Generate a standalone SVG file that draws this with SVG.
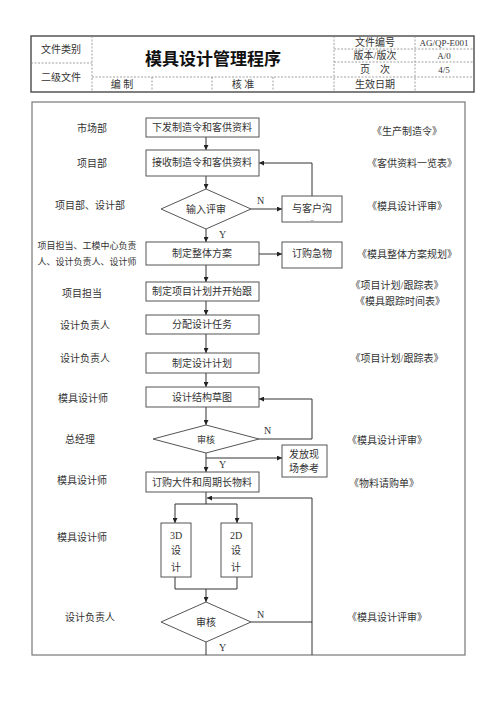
<svg xmlns="http://www.w3.org/2000/svg" width="500" height="708" viewBox="0 0 500 708">
<defs>
<marker id="ah" viewBox="0 0 10 10" refX="10" refY="5" markerWidth="5" markerHeight="5" orient="auto" markerUnits="userSpaceOnUse"><path d="M0,0 L10,5 L0,10 z" fill="#222"/></marker>
<style>
text{font-family:"Liberation Serif","Noto Sans CJK SC",serif;fill:#333;font-size:10px}
.c{text-anchor:middle}
.s{font-size:9px}
.t{font-size:17px;font-weight:bold;fill:#111}
.hd{fill:none;stroke:#888;stroke-width:0.8;stroke-dasharray:2,1.5}
.box{fill:#fff;stroke:#555;stroke-width:1}
.ln{fill:none;stroke:#333;stroke-width:1}
.ar{fill:none;stroke:#333;stroke-width:1;marker-end:url(#ah)}
</style>
</defs>
<rect width="500" height="708" fill="#fff"/>
<g id="header">
<rect x="31" y="36" width="443" height="56" fill="none" stroke="#555" stroke-width="1.5"/>
<line class="hd" x1="92" y1="36" x2="92" y2="92"/>
<line class="hd" x1="31" y1="63" x2="92" y2="63"/>
<line class="hd" x1="334" y1="36" x2="334" y2="92"/>
<line class="hd" x1="415" y1="36" x2="415" y2="92"/>
<line class="hd" x1="334" y1="49" x2="474" y2="49"/>
<line class="hd" x1="334" y1="62" x2="474" y2="62"/>
<line class="hd" x1="92" y1="77" x2="474" y2="77"/>
<line class="hd" x1="152" y1="77" x2="152" y2="92"/>
<line class="hd" x1="212" y1="77" x2="212" y2="92"/>
<line class="hd" x1="273" y1="77" x2="273" y2="92"/>
<text class="c" x="61" y="53">文件类别</text>
<text class="c" x="61" y="81">二级文件</text>
<text class="c t" x="213" y="65">模具设计管理程序</text>
<text class="c" x="122" y="88">编 制</text>
<text class="c" x="243" y="88">核 准</text>
<text class="c" x="375" y="46">文件编号</text>
<text class="c" x="375" y="59">版本/版次</text>
<text class="c" x="375" y="73">页　次</text>
<text class="c" x="375" y="88">生效日期</text>
<text class="c s" x="444" y="46">AG/QP-E001</text>
<text class="c s" x="444" y="59">A/0</text>
<text class="c s" x="444" y="73">4/5</text>
</g>
<rect id="frame" x="32" y="102" width="433" height="553" fill="none" stroke="#777" stroke-width="1.2"/>
<g id="roles">
<text class="c" x="92" y="132">市场部</text>
<text class="c" x="92" y="167">项目部</text>
<text class="c" x="90" y="209">项目部、设计部</text>
<text class="c s" x="87" y="249">项目担当、工模中心负责</text>
<text class="c s" x="87" y="265">人、设计负责人、设计师</text>
<text class="c" x="82" y="297">项目担当</text>
<text class="c" x="85" y="329">设计负责人</text>
<text class="c" x="85" y="362">设计负责人</text>
<text class="c" x="83" y="402">模具设计师</text>
<text class="c" x="80" y="443">总经理</text>
<text class="c" x="82" y="484">模具设计师</text>
<text class="c" x="82" y="541">模具设计师</text>
<text class="c" x="90" y="621">设计负责人</text>
</g>
<g id="docs">
<text class="c" x="407" y="135">《生产制造令》</text>
<text class="c" x="412" y="167">《客供资料一览表》</text>
<text class="c" x="407" y="210">《模具设计评审》</text>
<text class="c" x="407" y="258">《模具整体方案规划》</text>
<text class="c" x="397" y="289">《项目计划/跟踪表》</text>
<text class="c" x="400" y="305">《模具跟踪时间表》</text>
<text class="c" x="397" y="362">《项目计划/跟踪表》</text>
<text class="c" x="387" y="444">《模具设计评审》</text>
<text class="c" x="384" y="487">《物料请购单》</text>
<text class="c" x="387" y="621">《模具设计评审》</text>
</g>
<g id="connectors">
<line class="ar" x1="206" y1="137" x2="206" y2="150"/>
<line class="ar" x1="206" y1="176" x2="206" y2="189"/>
<line class="ar" x1="251" y1="209" x2="282" y2="209"/>
<polyline class="ar" points="312,196 312,163 259,163"/>
<line class="ar" x1="206" y1="229" x2="206" y2="242"/>
<line class="ar" x1="259" y1="254" x2="282" y2="254"/>
<line class="ar" x1="206" y1="265" x2="206" y2="282"/>
<line class="ar" x1="206" y1="301" x2="206" y2="315"/>
<line class="ar" x1="206" y1="334" x2="206" y2="353"/>
<line class="ar" x1="206" y1="373" x2="206" y2="387"/>
<line class="ar" x1="206" y1="407" x2="206" y2="425"/>
<polyline class="ar" points="259,439 312,439 312,399 259,399"/>
<line class="ar" x1="206" y1="453" x2="206" y2="472"/>
<line class="ar" x1="206" y1="458" x2="282" y2="458"/>
<line class="ln" x1="206" y1="492" x2="206" y2="504"/>
<line class="ln" x1="175" y1="504" x2="237" y2="504"/>
<line class="ar" x1="175" y1="504" x2="175" y2="523"/>
<line class="ar" x1="237" y1="504" x2="237" y2="523"/>
<line class="ln" x1="312" y1="655" x2="312" y2="498"/>
<line class="ar" x1="312" y1="498" x2="207" y2="498"/>
<polyline class="ln" points="175,577 175,589 237,589 237,577"/>
<line class="ar" x1="206" y1="589" x2="206" y2="602"/>
<line class="ln" x1="251" y1="622" x2="312" y2="622"/>
<line class="ln" x1="206" y1="642" x2="206" y2="655"/>
<text x="257" y="204">N</text>
<text x="219" y="238">Y</text>
<text x="264" y="434">N</text>
<text x="219" y="468">Y</text>
<text x="257" y="618">N</text>
<text x="219" y="651">Y</text>
</g>
<g id="n1"><rect class="box" x="146" y="118" width="113" height="19"/><text class="c" x="202" y="131">下发制造令和客供资料</text></g>
<g id="n2"><rect class="box" x="146" y="150" width="113" height="26"/><text class="c" x="202" y="166">接收制造令和客供资料</text></g>
<g id="n3"><polygon class="box" points="206,189 251,209 206,229 161,209"/><text class="c" x="206" y="213">输入评审</text></g>
<g id="n4"><rect class="box" x="282" y="196" width="60" height="26"/><text class="c" x="312" y="212">与客户沟</text><text class="c" x="312" y="220" style="font-size:6px">_</text></g>
<g id="n5"><rect class="box" x="146" y="242" width="113" height="23"/><text class="c" x="202" y="257">制定整体方案</text></g>
<g id="n6"><rect class="box" x="282" y="242" width="60" height="26"/><text class="c" x="312" y="257">订购急物</text></g>
<g id="n7"><rect class="box" x="146" y="282" width="113" height="19"/><text class="c" x="202" y="295">制定项目计划并开始跟</text></g>
<g id="n8"><rect class="box" x="146" y="315" width="113" height="19"/><text class="c" x="202" y="328">分配设计任务</text></g>
<g id="n9"><rect class="box" x="146" y="353" width="113" height="20"/><text class="c" x="202" y="367">制定设计计划</text></g>
<g id="n10"><rect class="box" x="146" y="387" width="113" height="20"/><text class="c" x="202" y="401">设计结构草图</text></g>
<g id="n11"><polygon class="box" points="206,425 259,439 206,453 153,439"/><text class="c" x="206" y="443" style="font-size:9px">审核</text></g>
<g id="n12"><rect class="box" x="282" y="445" width="45" height="32"/><text class="c" x="304" y="458">发放现</text><text class="c" x="304" y="472">场参考</text></g>
<g id="n13"><rect class="box" x="146" y="472" width="113" height="20"/><text class="c" x="202" y="486">订购大件和周期长物料</text></g>
<g id="n14"><rect class="box" x="161" y="523" width="30" height="54"/><text class="c" x="176" y="539">3D</text><text class="c" x="176" y="554">设</text><text class="c" x="176" y="571">计</text></g>
<g id="n15"><rect class="box" x="221" y="523" width="31" height="54"/><text class="c" x="236" y="539">2D</text><text class="c" x="236" y="554">设</text><text class="c" x="236" y="571">计</text></g>
<g id="n16"><polygon class="box" points="206,602 251,622 206,642 161,622"/><text class="c" x="206" y="626">审核</text></g>
</svg>
